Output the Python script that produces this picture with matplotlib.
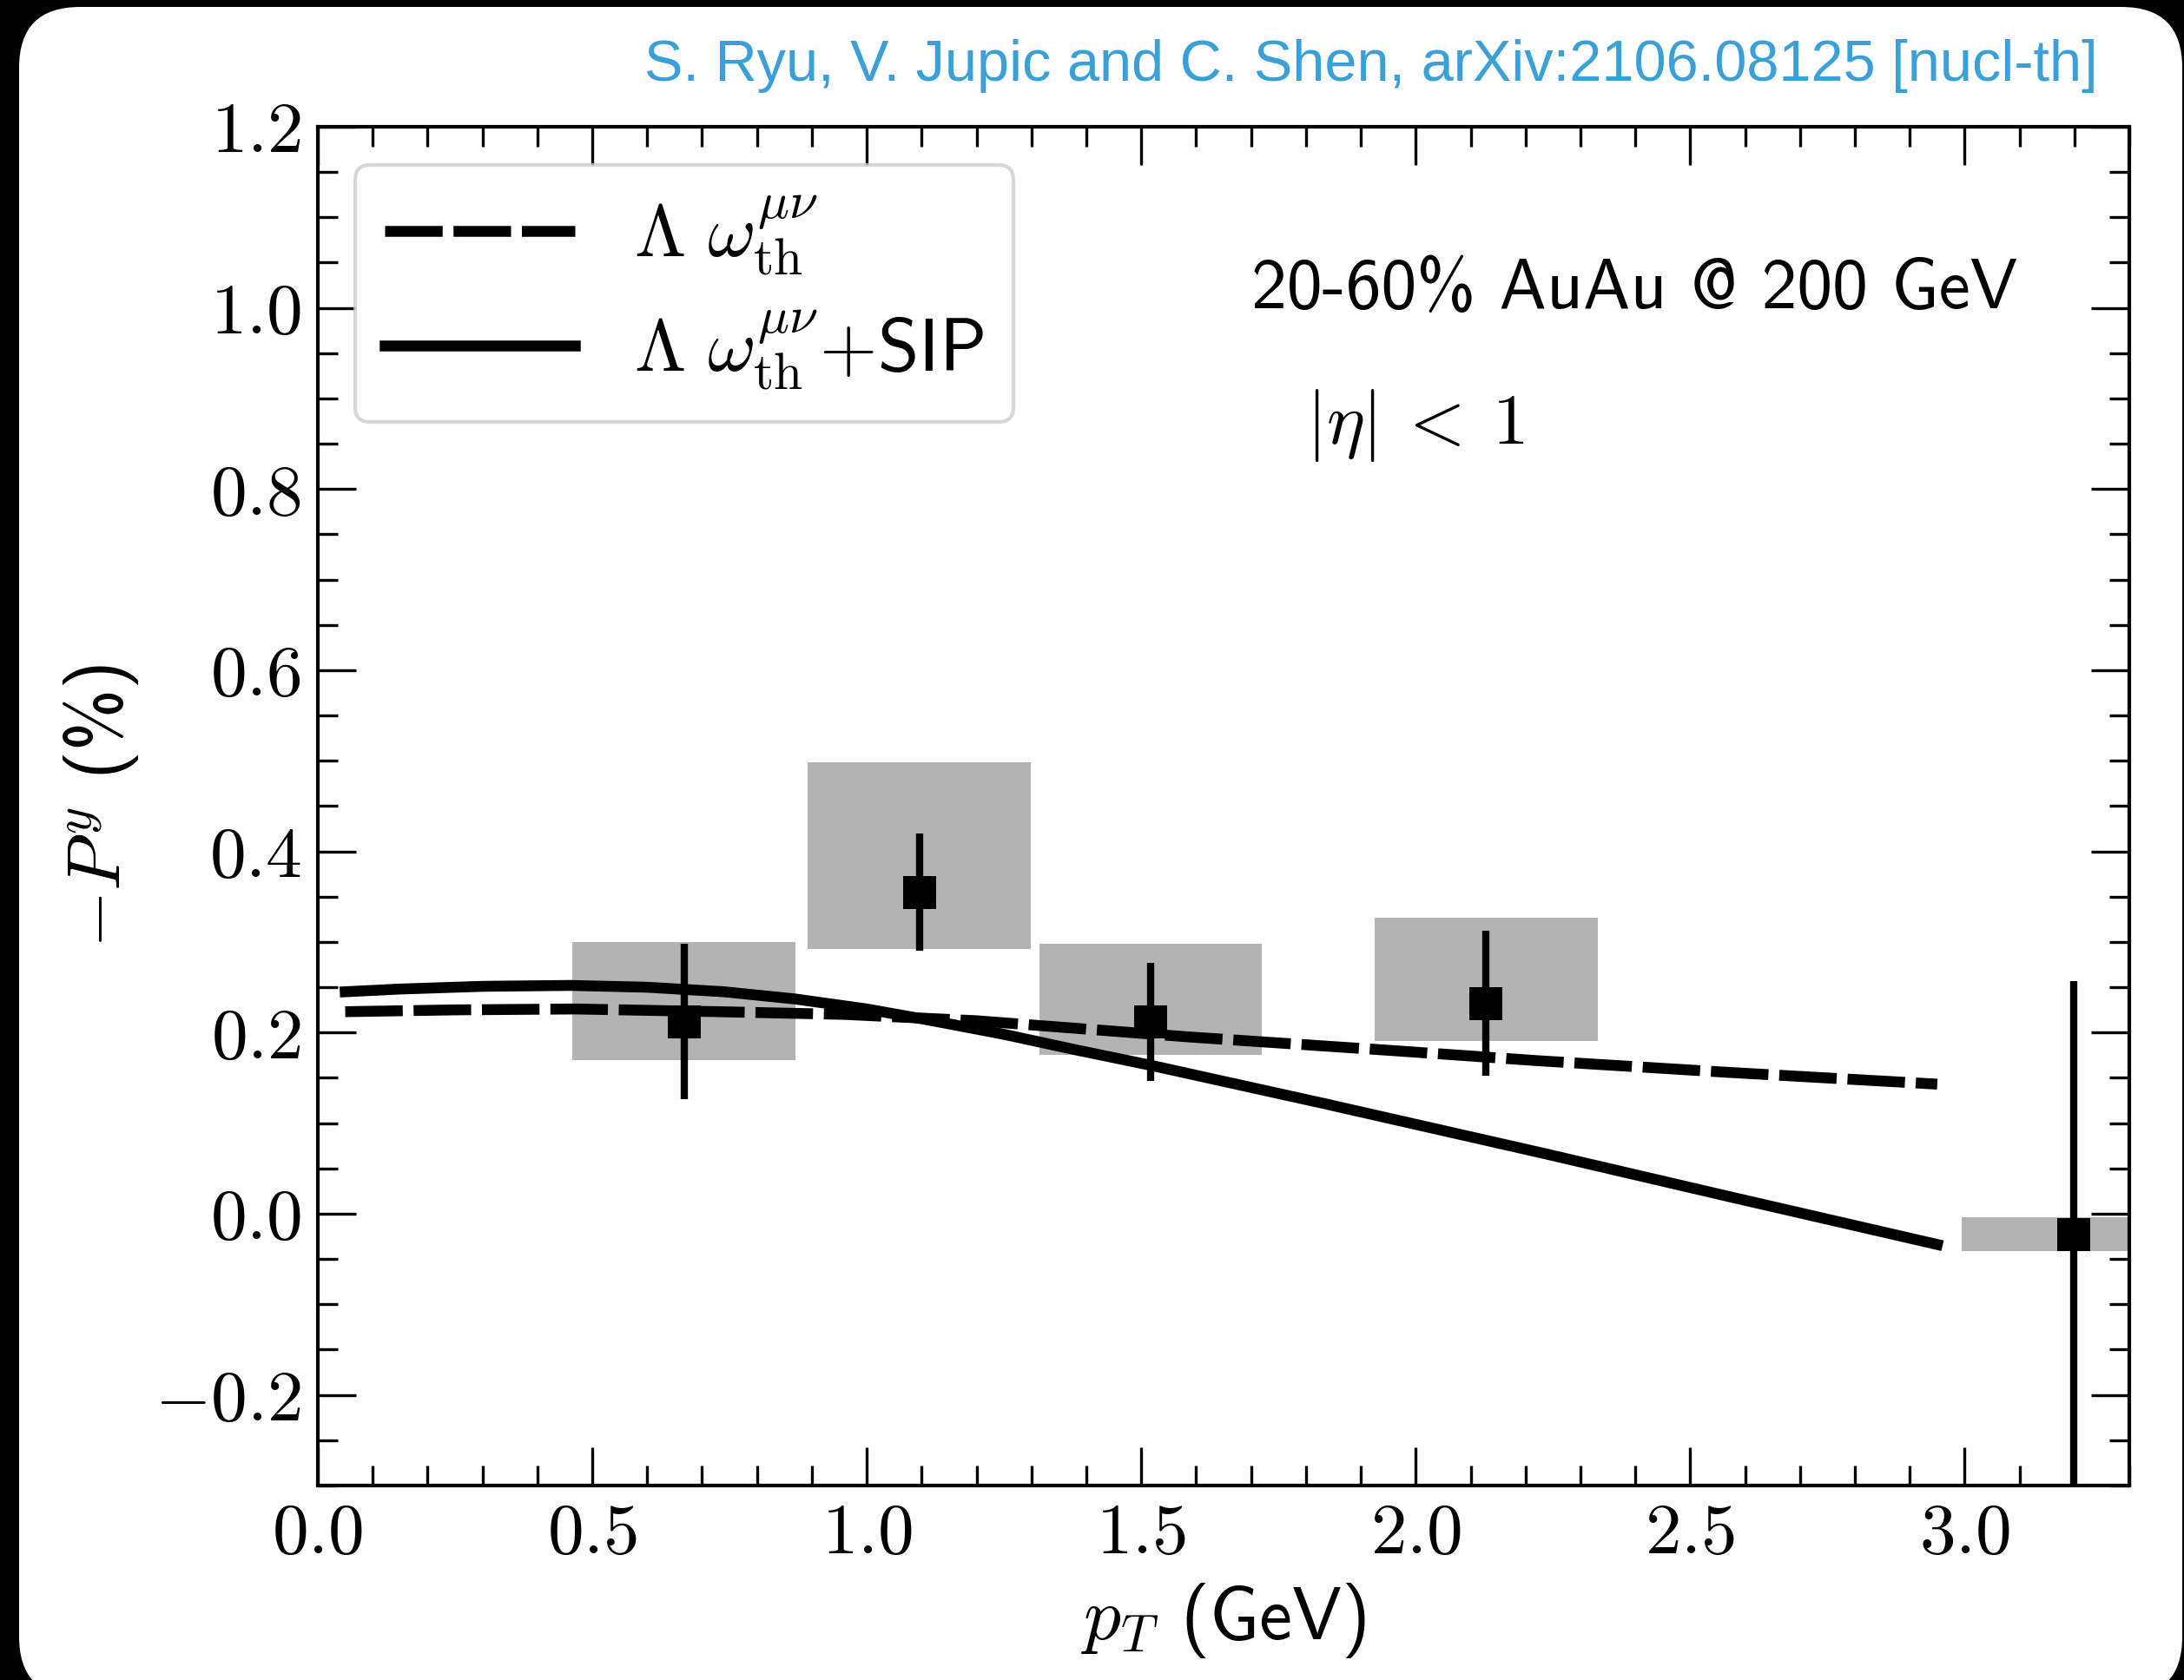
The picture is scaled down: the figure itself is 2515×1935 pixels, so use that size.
import matplotlib
matplotlib.use('Agg')
import matplotlib.pyplot as plt
from matplotlib.patches import FancyBboxPatch
from matplotlib.transforms import IdentityTransform
from matplotlib.ticker import MultipleLocator

plt.rcParams['mathtext.fontset'] = 'cm'
plt.rcParams['font.family'] = ['cmss10', 'DejaVu Sans']
plt.rcParams['axes.unicode_minus'] = False

# STAR-like data points (pT, -P^y in %)
pt_data = [0.667, 1.096, 1.517, 2.128, 3.198]
py_data = [0.212, 0.355, 0.212, 0.232, -0.023]
py_stat = [0.086, 0.065, 0.065, 0.080, 0.28]
sys_lo = [0.170, 0.292, 0.175, 0.191, -0.041]
sys_hi = [0.300, 0.498, 0.298, 0.327, -0.004]

# theory curves
pt_th = [0.05, 0.25, 0.47, 0.73, 0.96, 1.20, 1.59, 1.96, 2.22, 2.57, 2.95]
py_th = [0.223, 0.225, 0.226, 0.223, 0.220, 0.213, 0.195, 0.180, 0.169, 0.156, 0.143]
pt_sip = [0.05, 0.15, 0.30, 0.46, 0.60, 0.74, 0.87, 1.00, 1.12, 1.25, 1.38, 1.52, 1.83, 2.23, 2.57, 2.95]
py_sip = [0.245, 0.248, 0.251, 0.252, 0.250, 0.245, 0.237, 0.226, 0.213, 0.198, 0.181, 0.1635, 0.122, 0.067, 0.019, -0.034]

xticks = [0.0, 0.5, 1.0, 1.5, 2.0, 2.5, 3.0]
xticklabels = [r'$0.0$', r'$0.5$', r'$1.0$', r'$1.5$', r'$2.0$', r'$2.5$', r'$3.0$']
yticks = [-0.2, 0.0, 0.2, 0.4, 0.6, 0.8, 1.0, 1.2]
yticklabels = [r'$-0.2$', r'$0.0$', r'$0.2$', r'$0.4$', r'$0.6$', r'$0.8$', r'$1.0$', r'$1.2$']

W, H, DPI = 2515, 1935, 300
fig = plt.figure(figsize=(W / DPI, H / DPI), dpi=DPI)
fig.patch.set_facecolor('black')

# white rounded panel (pixel coords), behind the axes
panel = FancyBboxPatch((22, -20), 2491, 1947, boxstyle='round,pad=0,rounding_size=70',
                       transform=IdentityTransform(), facecolor='white', edgecolor='none',
                       zorder=-5)
fig.patches.append(panel)

ax = fig.add_axes([0.1455, 0.1158, 0.8295, 0.8088])
ax.set_facecolor('white')

box_w = 0.406
ax.bar(pt_data, [h - l for h, l in zip(sys_hi, sys_lo)], bottom=sys_lo, width=box_w,
       color='#b3b3b3', linewidth=0, zorder=1)

ax.plot(pt_th, py_th, color='k', lw=3, dashes=(5.3, 1.0), zorder=2,
        label=r'$\Lambda\ \omega^{\mu\nu}_{\rm th}$')
ax.plot(pt_sip, py_sip, color='k', lw=3, zorder=2,
        label=r'$\Lambda\ \omega^{\mu\nu}_{\rm th}$+SIP')

ax.errorbar(pt_data, py_data, yerr=py_stat, fmt='s', color='k', ms=9, mew=0,
            elinewidth=2, capsize=0, zorder=3)

ax.set_xlim(0, 3.3)
ax.set_ylim(-0.3, 1.2)
ax.set_xticks(xticks)
ax.set_xticklabels(xticklabels)
ax.set_yticks(yticks)
ax.set_yticklabels(yticklabels)
ax.xaxis.set_minor_locator(MultipleLocator(0.1))
ax.yaxis.set_minor_locator(MultipleLocator(0.05))
ax.tick_params(which='both', direction='in', top=True, right=True)
ax.tick_params(which='major', length=10.5, width=0.8, labelsize=20, pad=4.5)
ax.tick_params(which='minor', length=5.5, width=0.8)
for s in ax.spines.values():
    s.set_linewidth(1.0)

ax.set_xlabel(r'$p_T$ (GeV)', fontsize=20.5, labelpad=4)
ax.set_ylabel(r'$-P^y$ (%)', fontsize=20.5, labelpad=4)

ax.text(1.7, 1.0, '20-60% AuAu @ 200 GeV', fontsize=19.6)
ax.text(1.8, 0.85, r'$|\eta|\:<\:1$', fontsize=20)

ax.legend(loc='upper left', bbox_to_anchor=(0.0206, 0.972), borderaxespad=0,
          fontsize=20.5, handlelength=2.56, labelspacing=0.42)

fig.text(0.9606, 0.952, 'S. Ryu, V. Jupic and C. Shen, arXiv:2106.08125 [nucl-th]',
         ha='right', va='baseline', color='#3aa0d9', fontsize=16, family='Liberation Sans')

fig.savefig('out.png', dpi=DPI, facecolor='black')
